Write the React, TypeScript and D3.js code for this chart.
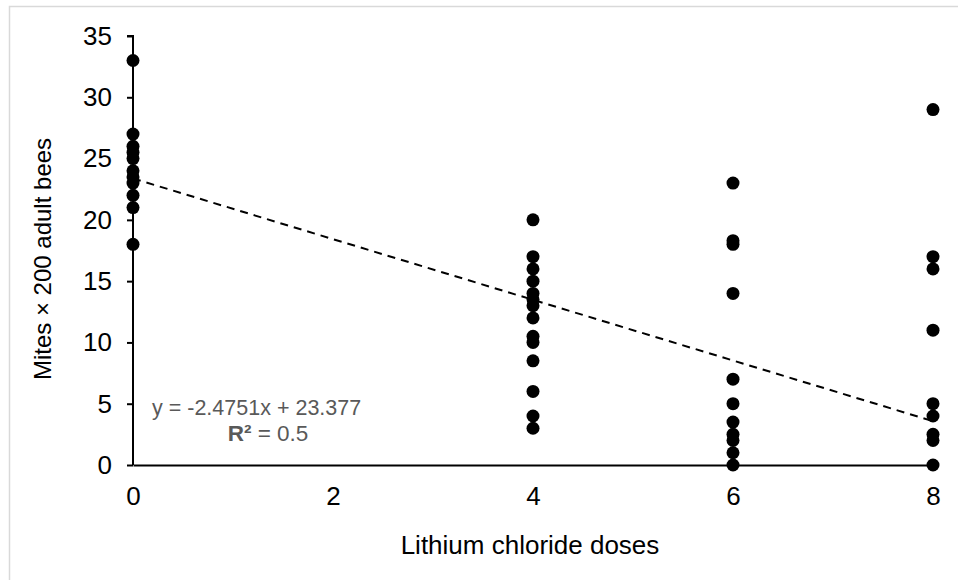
import React, { useEffect, useRef } from 'react';
import * as d3 from 'd3';

// doses (x) and mite counts (y)
const dose0 = [33, 27, 26, 25.5, 25, 24, 23.5, 23, 22, 21, 18];
const dose4 = [20, 17, 16, 15, 14, 13.5, 13, 12, 10.5, 10, 8.5, 6, 4, 3];
const dose6 = [23, 18.3, 18, 14, 7, 5, 3.5, 2.5, 2, 1, 0];
const dose8 = [29, 17, 16, 11, 5, 4, 2.5, 2, 0];

const doseGroups: [number, number[]][] = [
  [0, dose0],
  [4, dose4],
  [6, dose6],
  [8, dose8],
];

const xTicks = [0, 2, 4, 6, 8];
const yTicks = [0, 5, 10, 15, 20, 25, 30, 35];

const slope = -2.4751;
const intercept = 23.377;

interface Pt {
  x: number;
  y: number;
}

export default function App() {
  const svgRef = useRef<SVGSVGElement>(null);
  const width = 958;
  const height = 580;

  useEffect(() => {
    if (!svgRef.current) return;
    const svg = d3.select(svgRef.current);
    svg.selectAll('*').remove();

    const font = 'Arial, "Liberation Sans", sans-serif';
    const x = d3.scaleLinear().domain([0, 8]).range([133, 933]);
    const y = d3.scaleLinear().domain([0, 35]).range([465, 36]);

    // chart frame
    svg.append('rect')
      .attr('x', 9.5)
      .attr('y', 6.5)
      .attr('width', 960)
      .attr('height', 580)
      .attr('fill', '#fff')
      .attr('stroke', '#d9d9d9')
      .attr('stroke-width', 1.5);

    // y axis
    const yAxis = d3.axisLeft(y).tickValues(yTicks).tickSize(6).tickPadding(15);
    const gy = svg.append('g')
      .attr('transform', `translate(${x(0)},0)`)
      .call(yAxis);
    gy.select('.domain').attr('stroke', '#000').attr('stroke-width', 2)
      .attr('d', `M-6,${y(35)}H0V${y(0)}`);
    gy.selectAll('.tick line').attr('stroke', '#000').attr('stroke-width', 2);
    gy.selectAll('.tick text')
      .attr('fill', '#000')
      .attr('font-size', 26)
      .attr('font-family', font);

    // x axis
    const xAxis = d3.axisBottom(x).tickValues(xTicks).tickSize(0).tickPadding(22);
    const gx = svg.append('g')
      .attr('transform', `translate(0,${y(0)})`)
      .call(xAxis);
    gx.select('.domain').attr('stroke', '#000').attr('stroke-width', 2);
    gx.selectAll('.tick text')
      .attr('fill', '#000')
      .attr('font-size', 26)
      .attr('font-family', font);

    // trend line
    const line = d3.line<number>()
      .x(d => x(d))
      .y(d => y(slope * d + intercept));
    svg.append('path')
      .datum([0, 8])
      .attr('d', line)
      .attr('fill', 'none')
      .attr('stroke', '#000')
      .attr('stroke-width', 2)
      .attr('stroke-dasharray', '8,6');

    // points
    const pts: Pt[] = doseGroups.flatMap(([d, vals]) => vals.map(v => ({ x: d, y: v })));
    svg.selectAll('.dot')
      .data(pts)
      .enter()
      .append('circle')
      .attr('class', 'dot')
      .attr('cx', d => x(d.x))
      .attr('cy', d => y(d.y))
      .attr('r', 6.5)
      .attr('fill', '#000');

    // equation
    svg.append('text')
      .attr('x', 152)
      .attr('y', 415)
      .attr('font-size', 21.5)
      .attr('font-family', font)
      .attr('fill', '#595959')
      .text('y = -2.4751x + 23.377');
    const r2 = svg.append('text')
      .attr('x', 268)
      .attr('y', 441)
      .attr('text-anchor', 'middle')
      .attr('font-size', 22.5)
      .attr('font-family', font)
      .attr('fill', '#595959');
    r2.append('tspan').attr('font-weight', 'bold').text('R²');
    r2.append('tspan').text(' = 0.5');

    // axis titles
    svg.append('text')
      .attr('x', 530)
      .attr('y', 554)
      .attr('text-anchor', 'middle')
      .attr('font-size', 26)
      .attr('font-family', font)
      .attr('fill', '#000')
      .text('Lithium chloride doses');
    svg.append('text')
      .attr('transform', 'translate(51,259) rotate(-90)')
      .attr('text-anchor', 'middle')
      .attr('font-size', 24)
      .attr('font-family', font)
      .attr('fill', '#000')
      .text('Mites × 200 adult bees');
  }, []);

  return (
    <svg
      ref={svgRef}
      width={width}
      height={height}
      style={{ position: 'absolute', left: 0, top: 0, background: '#fff' }}
    />
  );
}
